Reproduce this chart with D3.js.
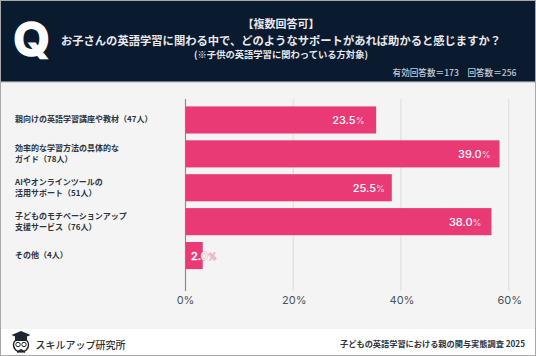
<!DOCTYPE html>
<html>
<head>
<meta charset="utf-8">
<script src="https://cdn.jsdelivr.net/npm/d3@7"></script>
<style>
html,body{margin:0;padding:0;background:#fff;}
svg{display:block;}
text{font-family:"Noto Sans CJK JP",sans-serif;}
</style>
</head>
<body>
<div id="chart"></div>
<script>
var categories = [
    ["親向けの英語学習講座や教材（47人）"],
    ["効率的な学習方法の具体的な","ガイド（78人）"],
    ["AIやオンラインツールの","活用サポート（51人）"],
    ["子どものモチベーションアップ","支援サービス（76人）"],
    ["その他（4人）"]
];

// bar lengths as read against the drawn axis; the printed labels differ from it in the source
var barValues = [35.4, 58.3, 38.3, 56.8, 3.2];
var valueLabels = ["23.5", "39.0", "25.5", "38.0", "2.0"];
var ticks = [0, 20, 40, 60];

var titleLines = [
    "【複数回答可】",
    "お子さんの英語学習に関わる中で、どのようなサポートがあれば助かると感じますか？",
    "(※子供の英語学習に関わっている方対象)"
];
var countText = "有効回答数＝173　回答数＝256";
var brandText = "スキルアップ研究所";
var surveyText = "子どもの英語学習における親の関与実態調査 2025";

var width = 536, height = 356;
var svg = d3.select("#chart").append("svg").attr("width", width).attr("height", height);

//background
svg.append("rect").attr("width", width).attr("height", height).attr("fill", "#fff");
svg.append("rect").attr("y", 82).attr("width", width).attr("height", 247).attr("fill", "#f4f4f4");
svg.append("rect").attr("y", 81).attr("width", width).attr("height", 2).attr("fill", "#d4d6d8");
svg.append("rect").attr("width", width).attr("height", 81.5).attr("fill", "#0a1a2f");
svg.append("rect").attr("x", 0.5).attr("y", 0.5).attr("width", width - 1).attr("height", height - 1)
    .attr("fill", "none").attr("stroke", "#a8a8a8");

//header
svg.append("text").attr("x", 31.5).attr("y", 56).attr("text-anchor", "middle")
    .attr("font-size", 47).attr("font-weight", 700).attr("fill", "#fff")
    .attr("stroke", "#fff").attr("stroke-width", 1.6)
    .style("font-family", "Inter").text("Q");

var titleY = [27.5, 44.5, 58], titleSize = [11, 11.3, 9.3];
titleLines.forEach(function(t, i){
    svg.append("text").attr("x", 281).attr("y", titleY[i]).attr("text-anchor", "middle")
        .attr("font-size", titleSize[i]).attr("font-weight", 700).attr("fill", "#e8e8ec").text(t);
});
svg.append("text").attr("x", 516.5).attr("y", 75.5).attr("text-anchor", "end")
    .attr("font-size", 8.6).attr("font-weight", 500).attr("fill", "#c4c8d0").text(countText);

//chart
var x = d3.scaleLinear().domain([0, 60]).range([185.5, 508.7]);
var y = d3.scaleBand().domain(d3.range(categories.length)).range([103, 272.5]).paddingInner(0.2).paddingOuter(0.1);

ticks.forEach(function(t){
    svg.append("line").attr("x1", x(t)).attr("x2", x(t)).attr("y1", 99).attr("y2", 291)
        .attr("stroke", t === 0 ? "#8a8e94" : "#e0e0e0").attr("stroke-width", 1.2);
    svg.append("text").attr("x", x(t) + (t === 0 ? 0 : 1)).attr("y", 304).attr("text-anchor", "middle")
        .attr("font-size", 11).attr("fill", "#4a5260").style("font-family", "Inter").text(t + "%");
});

svg.selectAll(".bar").data(barValues).enter().append("rect")
    .attr("class", "bar")
    .attr("x", x(0))
    .attr("y", function(d, i){ return y(i); })
    .attr("width", function(d){ return x(d) - x(0); })
    .attr("height", y.bandwidth())
    .attr("fill", "#ea3a76");

categories.forEach(function(lines, i){
    var cy = y(i) + y.bandwidth() / 2;
    lines.forEach(function(t, j){
        svg.append("text").attr("x", 15).attr("y", cy + 2.5 + (j - (lines.length - 1) / 2) * 11.3)
            .attr("font-size", 8).attr("font-weight", 700).attr("fill", "#2e3440").text(t);
    });
});

var labelInset = [11.7, 9, 7, 10];
valueLabels.forEach(function(v, i){
    var last = i === valueLabels.length - 1;
    var label = svg.append("text")
        .attr("x", last ? x(0) + 5.5 : x(barValues[i]) - labelInset[i])
        .attr("y", y(i) + y.bandwidth() / 2 + 4.2)
        .attr("text-anchor", last ? "start" : "end")
        .attr("font-size", 11).attr("font-weight", 500).attr("fill", "#fff").style("font-family", "Inter");
    if (last) label.attr("stroke", "#f08aae").attr("stroke-width", 0.8).attr("paint-order", "stroke");
    label.append("tspan").text(v);
    label.append("tspan").attr("font-size", 9).attr("font-weight", 400)
        .attr("fill", last ? "#fbd5e2" : "#fbd5e2").text("%");
});

//footer
var logo = svg.append("g").attr("transform", "translate(21,345)");
logo.append("ellipse").attr("rx", 7.5).attr("ry", 7).attr("fill", "#fff").attr("stroke", "#1f2630").attr("stroke-width", 1.5);
logo.append("rect").attr("x", -6).attr("y", -10).attr("width", 12).attr("height", 6).attr("fill", "#1f2630");
logo.append("path").attr("d", "M-9.5,-10L0,-14L9.5,-10L0,-6Z").attr("fill", "#1f2630");
logo.append("circle").attr("cx", -3).attr("cy", -0.5).attr("r", 2.2).attr("fill", "none").attr("stroke", "#1f2630");
logo.append("circle").attr("cx", 3).attr("cy", -0.5).attr("r", 2.2).attr("fill", "none").attr("stroke", "#1f2630");
logo.append("path").attr("d", "M-4,6L0,4L4,6L4,8L0,6.5L-4,8Z").attr("fill", "#1f2630");

svg.append("text").attr("x", 35.5).attr("y", 348.5).attr("font-size", 10).attr("font-weight", 500)
    .attr("fill", "#2b3038").text(brandText);
svg.append("text").attr("x", 525).attr("y", 346.5).attr("text-anchor", "end")
    .attr("font-size", 8.2).attr("font-weight", 700).attr("fill", "#2e3440").text(surveyText);
</script>
</body>
</html>
